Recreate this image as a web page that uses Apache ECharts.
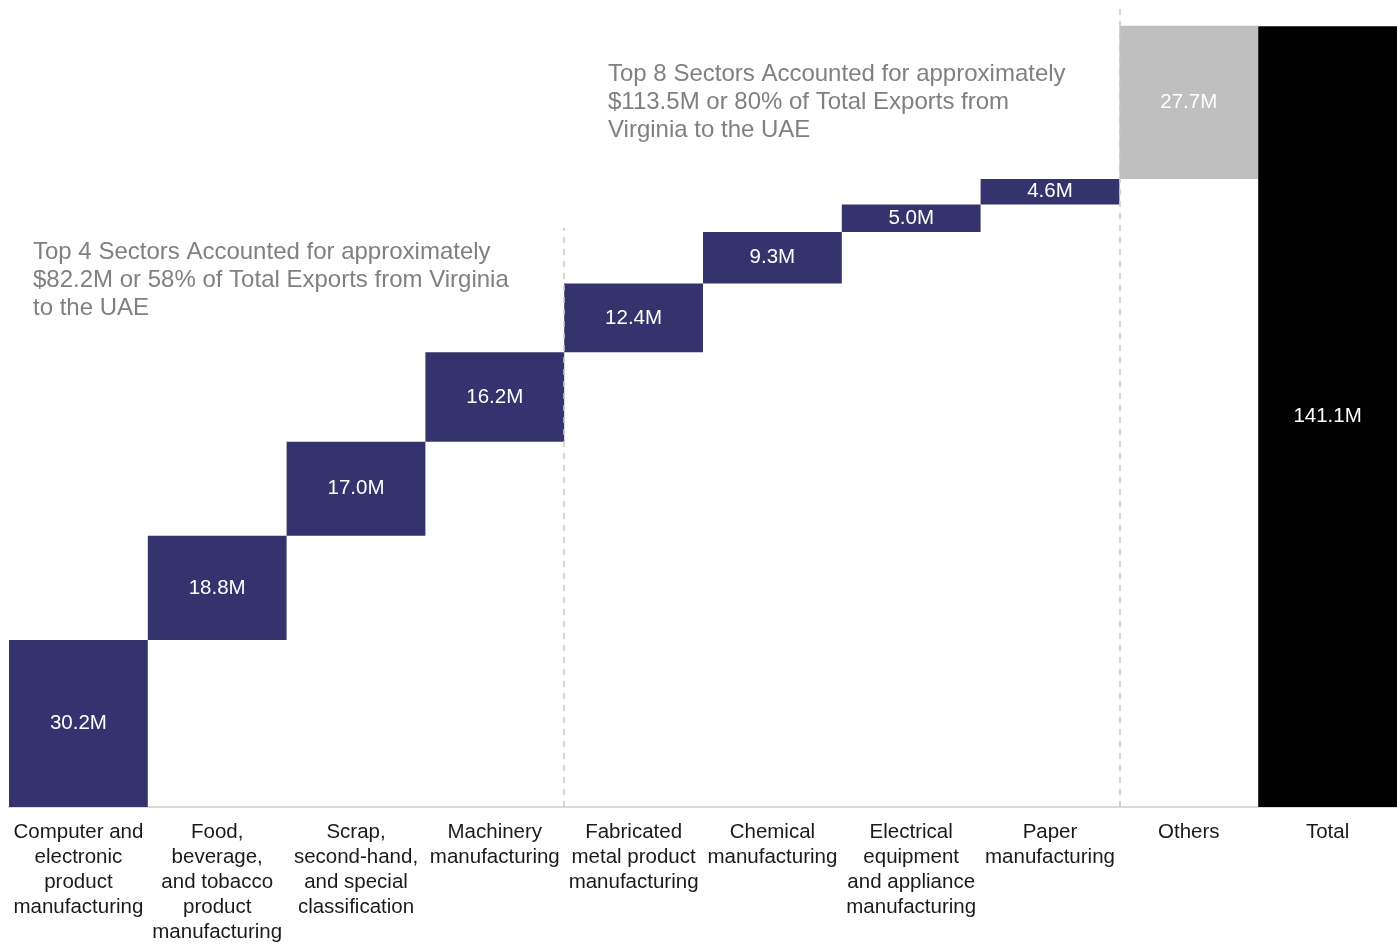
<!DOCTYPE html>
<html><head><meta charset="utf-8">
<script src="https://cdn.jsdelivr.net/npm/echarts@6/dist/echarts.min.js"></script>
<style>html,body{margin:0;padding:0;background:#fff}#c{width:1397px;height:945px}</style>
</head><body><div id="c"></div>
<script>
const categories = [
  "Computer and\nelectronic\nproduct\nmanufacturing",
  "Food,\nbeverage,\nand tobacco\nproduct\nmanufacturing",
  "Scrap,\nsecond-hand,\nand special\nclassification",
  "Machinery\nmanufacturing",
  "Fabricated\nmetal product\nmanufacturing",
  "Chemical\nmanufacturing",
  "Electrical\nequipment\nand appliance\nmanufacturing",
  "Paper\nmanufacturing",
  "Others",
  "Total"
];
const values = [30.2, 18.8, 17.0, 16.2, 12.4, 9.3, 5.0, 4.6, 27.7, 141.1];
const valueLabels = ["30.2M","18.8M","17.0M","16.2M","12.4M","9.3M","5.0M","4.6M","27.7M","141.1M"];
const note1 = "Top 4 Sectors Accounted for approximately\n$82.2M or 58% of Total Exports from Virginia\nto the UAE";
const note2 = "Top 8 Sectors Accounted for approximately\n$113.5M or 80% of Total Exports from\nVirginia to the UAE";

const NAVY = "#35336d";
const bases = [];
let run = 0;
values.forEach((v, i) => {
  if (i === values.length - 1) { bases.push(0); }
  else { bases.push(run); run += v; }
});
const colors = values.map((v, i) => i === values.length - 1 ? "#000000" : (i === values.length - 2 ? "#bfbfbf" : NAVY));

const chart = echarts.init(document.getElementById('c'));
chart.setOption({
  animation: false,
  backgroundColor: '#ffffff',
  textStyle: { fontFamily: 'Liberation Sans, Arial, sans-serif' },
  grid: { left: 9, width: 1391, top: 8, height: 801, containLabel: false },
  xAxis: [{
    type: 'category', data: categories,
    axisLine: { show: true, lineStyle: { color: '#d9d9d9', width: 2 } },
    axisTick: { show: false },
    axisLabel: { interval: 0, color: '#1a1a1a', fontSize: 20.5, lineHeight: 25, margin: 13, fontFamily: 'Liberation Sans, Arial, sans-serif' }
  }, {
    type: 'value', min: -0.5, max: 9.5, show: false
  }],
  yAxis: { type: 'value', min: 0, max: 144.4, show: false },
  series: [
    { type: 'bar', stack: 'w', data: bases, barCategoryGap: 0, itemStyle: { color: 'transparent' }, silent: true },
    { type: 'bar', stack: 'w', barCategoryGap: 0,
      data: values.map((v, i) => ({ value: v, itemStyle: { color: colors[i] } })),
      label: { show: true, position: 'inside', color: '#ffffff', fontSize: 20.5,
        fontFamily: 'Liberation Sans, Arial, sans-serif',
        formatter: p => valueLabels[p.dataIndex] } },
    { type: 'line', xAxisIndex: 1, data: [], clip: false,
      markLine: { symbol: 'none', silent: true, label: { show: false },
        lineStyle: { color: '#c8c8c8', type: [6, 6], width: 1.5 },
        data: [
          [{ coord: [3.5, 0] }, { coord: [3.5, 104.7] }],
          [{ coord: [7.5, 0] }, { coord: [7.5, 144.4] }]
        ] } }
  ],
  graphic: [
    { type: 'text', left: 33, top: 238, style: { text: note1, fill: '#808080', fontSize: 24, lineHeight: 28, fontFamily: 'Liberation Sans, Arial, sans-serif' } },
    { type: 'text', left: 608, top: 60, style: { text: note2, fill: '#808080', fontSize: 24, lineHeight: 28, fontFamily: 'Liberation Sans, Arial, sans-serif' } }
  ]
});
</script></body></html>
